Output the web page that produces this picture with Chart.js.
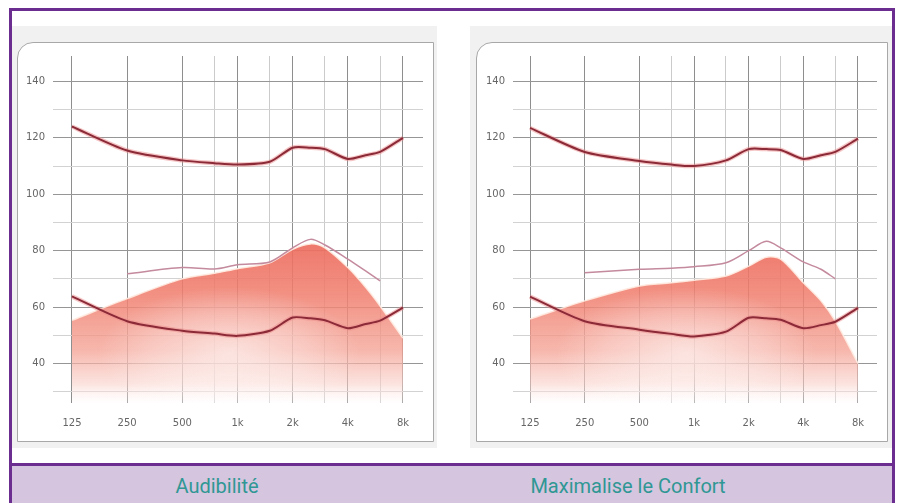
<!DOCTYPE html>
<html lang="fr">
<head>
<meta charset="utf-8">
<title>Audibilité / Maximalise le Confort</title>
<script src="https://cdn.jsdelivr.net/npm/chart.js@4.4.0/dist/chart.umd.min.js"></script>
<style>
  html, body { margin: 0; padding: 0; background: #fff; }
  body { width: 903px; height: 503px; position: relative; overflow: hidden; font-family: 'DejaVu Sans', sans-serif; }
  .frame { position: absolute; left: 9px; top: 8px; width: 886px; height: 530px; box-sizing: border-box; border: 3px solid #6b2d8f; }
  .panel { position: absolute; top: 26px; height: 422px; background: #f1f1f1; }
  .box { position: absolute; top: 42px; height: 400px; background: #fff; border: 1px solid #a8a8a8; border-top-left-radius: 16px; box-sizing: border-box; }
  canvas { position: absolute; top: 42px; }
  .band { position: absolute; left: 12px; top: 463px; width: 880px; height: 45px; border-top: 3px solid #6b2d8f; background: #d5c5de; }
  .band span { position: absolute; top: 8px; line-height: 24px; transform: translateX(-50%); white-space: nowrap;
               font-family: Roboto, sans-serif; font-weight: 400; font-size: 20px; color: #2f9794; }
</style>
</head>
<body>
<div class="frame"></div>

<div class="panel" style="left:12px; width:425px;"></div>
<div class="box" style="left:17px; width:417px;"></div>
<canvas id="audibilite" width="417" height="400" style="left:17px;"></canvas>

<div class="panel" style="left:470px; width:422px;"></div>
<div class="box" style="left:476px; width:412px;"></div>
<canvas id="confort" width="412" height="400" style="left:476px;"></canvas>

<div class="band">
  <span id="title1" style="left:205px;"></span>
  <span id="title2" style="left:616px;"></span>
</div>

<script>
const freqs = [125, 250, 500, 750, 1000, 1500, 2000, 2500, 3000, 4000, 5000, 6000, 8000];

// axis ticks
const xGridFreqs = [125, 250, 500, 750, 1000, 1500, 2000, 3000, 4000, 6000, 8000];
const xTickFreqs = [125, 250, 500, 1000, 2000, 4000, 8000];
const xTickLabels = ['125', '250', '500', '1k', '2k', '4k', '8k'];
const yGridLevels = [30, 40, 50, 60, 70, 80, 90, 100, 110, 120, 130, 140];
const yTickLevels = [40, 60, 80, 100, 120, 140];

const titles = ['Audibilité', 'Maximalise le Confort'];

// Audibilité (dB)
const audUpper  = [124, 115.5, 112, 111, 110.5, 111.5, 116.5, 116.5, 116, 112.5, 113.8, 115, 120];
const audLower  = [63.8, 55, 51.6, 50.6, 49.8, 51.6, 56.3, 56, 55.3, 52.5, 54, 55.2, 59.8];
const audOutput = [55.3, 63, 70, 72, 73.6, 75.7, 80.5, 82.4, 81, 74, 67, 60.4, 49];
const audTarget = [null, 71.8, 74, 73.5, 75, 76, 81, 84, 82, 77, 72.8, 69.3, null];

// Maximalise le Confort (dB)
const confUpper  = [123.5, 115, 111.8, 110.5, 110, 112, 116, 116, 115.7, 112.5, 113.8, 115, 119.7];
const confLower  = [63.7, 55, 52, 50.5, 49.6, 51.3, 56.2, 56, 55.5, 52.5, 53.6, 54.8, 59.7];
const confOutput = [55.8, 62.2, 67.5, 68.6, 69.5, 71, 74.5, 77.7, 77, 68.6, 62.2, 55, 40];
const confTarget = [null, 72.2, 73.4, 73.8, 74.3, 75.7, 80, 83.3, 81, 76, 73.4, 70, null];

document.getElementById('title1').textContent = titles[0];
document.getElementById('title2').textContent = titles[1];

const pts = (arr) => freqs.map((f, i) => ({ x: f, y: arr[i] }));

// salmon shading that fades downwards, paler in the middle of the band
const fillCache = new WeakMap();
const outputFill = (c) => {
  const { chart } = c;
  const { ctx, chartArea, scales } = chart;
  if (!chartArea) return 'rgba(240,130,115,0.7)';
  if (fillCache.has(chart)) return fillCache.get(chart);
  const off = document.createElement('canvas');
  off.width = chart.width;
  off.height = chart.height;
  const o = off.getContext('2d');
  const y = scales.y, x = scales.x;
  const g = o.createLinearGradient(0, y.getPixelForValue(84), 0, chartArea.bottom);
  g.addColorStop(0, 'rgba(236,106,92,0.92)');
  g.addColorStop(0.35, 'rgba(240,128,112,0.86)');
  g.addColorStop(0.68, 'rgba(244,160,146,0.76)');
  g.addColorStop(0.88, 'rgba(249,205,197,0.58)');
  g.addColorStop(1, 'rgba(255,250,250,0.25)');
  o.fillStyle = g;
  o.fillRect(0, 0, off.width, off.height);
  // pale sheen
  const cx = x.getPixelForValue(900), cy = y.getPixelForValue(44);
  o.save();
  o.translate(cx, cy);
  o.scale(2, 1);
  const r = o.createRadialGradient(0, 0, 0, 0, 0, 65);
  r.addColorStop(0, 'rgba(255,255,255,0.6)');
  r.addColorStop(0.6, 'rgba(255,255,255,0.28)');
  r.addColorStop(1, 'rgba(255,255,255,0)');
  o.fillStyle = r;
  o.beginPath();
  o.arc(0, 0, 65, 0, Math.PI * 2);
  o.fill();
  o.restore();
  const p = ctx.createPattern(off, 'no-repeat');
  fillCache.set(chart, p);
  return p;
};

function buildChart(id, yWidth, xMin, xMax, upper, lower, output, target) {
  return new Chart(document.getElementById(id), {
    type: 'line',
    data: {
      datasets: [
        { data: pts(upper), borderColor: '#8c2a38', borderWidth: 2, tension: 0.25, pointRadius: 0, order: 1 },
        { data: pts(lower), borderColor: '#8c2a38', borderWidth: 2, tension: 0.25, pointRadius: 0, order: 1 },
        { data: pts(upper), borderColor: 'rgba(236,140,140,0.5)', borderWidth: 4.5, tension: 0.25, pointRadius: 0, order: 5 },
        { data: pts(lower), borderColor: 'rgba(236,140,140,0.5)', borderWidth: 4.5, tension: 0.25, pointRadius: 0, order: 5 },
        { data: pts(target), borderColor: '#c48a9d', borderWidth: 1.5, tension: 0.3, pointRadius: 0, order: 8 },
        { data: pts(output), borderColor: 'rgba(255,236,226,0.9)', borderWidth: 1.5, tension: 0.3, pointRadius: 0,
          fill: 'start', backgroundColor: outputFill, order: 10 }
      ]
    },
    options: {
      responsive: false,
      animation: false,
      layout: { padding: { top: 11, right: 11, left: 0, bottom: 0 } },
      plugins: { legend: { display: false }, tooltip: { enabled: false } },
      scales: {
        x: {
          type: 'logarithmic',
          min: xMin,
          max: xMax,
          afterBuildTicks: (s) => { s.ticks = xGridFreqs.map((v) => ({ value: v })); },
          afterFit: (s) => { s.height = 39; },
          border: { display: false },
          grid: {
            drawTicks: false,
            color: (c) => (c.tick && xTickFreqs.includes(c.tick.value) ? '#8e8e8e' : '#cbcbcb')
          },
          ticks: {
            autoSkip: false,
            maxRotation: 0,
            padding: 14,
            color: '#666',
            font: { family: 'DejaVu Sans', size: 10 },
            callback: (v) => {
              const i = xTickFreqs.indexOf(v);
              return i >= 0 ? xTickLabels[i] : '';
            }
          }
        },
        y: {
          min: 26,
          max: 149,
          afterBuildTicks: (s) => { s.ticks = yGridLevels.map((v) => ({ value: v })); },
          afterFit: (s) => { s.width = yWidth; },
          border: { display: false },
          grid: {
            drawTicks: false,
            color: (c) => (c.tick && yTickLevels.includes(c.tick.value) ? '#969696' : '#d2d2d2')
          },
          ticks: {
            padding: 8,
            color: '#666',
            font: { family: 'DejaVu Sans', size: 10 },
            callback: (v) => (yTickLevels.includes(v) ? String(v) : '')
          }
        }
      }
    }
  });
}

buildChart('audibilite', 36, 98.5, 10286, audUpper, audLower, audOutput, audTarget);
buildChart('confort', 37, 100.7, 10180, confUpper, confLower, confOutput, confTarget);
</script>
</body>
</html>
